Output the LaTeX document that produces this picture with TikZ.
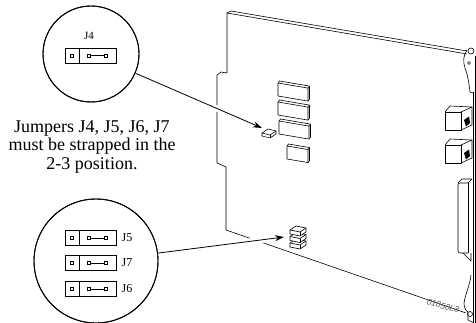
\documentclass[tikz,border=0pt]{standalone}
\usepackage{fontspec}
\setmainfont{Liberation Serif}
\setsansfont{Liberation Sans}
\usetikzlibrary{arrows.meta}
\newcommand{\boardchip}[3]{%
  \draw[board, fill=white] (#1,#2) -- ++(1.5,-2) -- ++(#3,{0.17*#3}) -- ++(0,13) -- ++(-1.5,2) -- ++(-#3,{-0.17*#3}) -- cycle;
  \draw[board] (#1,#2) -- ++(#3,{0.17*#3}) -- ++(0,13);
  \draw[board] (#1,#2) ++(#3,{0.17*#3}) -- ++(1.5,-2);}
\tikzset{
  board/.style={line width=0.6pt, line join=round},
  zoomcirc/.style={circle, draw, line width=0.9pt, inner sep=0pt},
  leader/.style={line width=0.8pt, -{Stealth[length=9pt,width=6pt]},
    preaction={draw=white, line width=6pt, -}},
  jumper/.pic={
    \draw[line width=0.7pt] (-25.5,-7.5) rectangle (25.5,7.5);
    \draw[line width=0.7pt] (-12.2,-7.5) -- (-12.2,7.5);
    \draw[line width=0.5pt] (-20.7,-1.5) rectangle ++(3,3);
    \draw[line width=0.5pt] (-3.7,-1.5) rectangle ++(3,3);
    \draw[line width=0.5pt] (13.3,-1.5) rectangle ++(3,3);
    \draw[line width=0.7pt] (-0.7,0) -- (13.3,0);
  },
  jblock/.pic={
    \draw[board, fill=white] (-8,0) -- (-2,-4) -- (8,-2) -- (8,2) -- (2,6) -- (-8,4) -- cycle;
    \draw[board] (-8,0) -- (2,2) -- (8,-2);
    \draw[board] (2,2) -- (2,6);
  },
  rjjack/.pic={
    \draw[board, fill=white] (0,0) rectangle (16,18);
    \draw[board] (0,0) -- (5,-6) -- (27,-5) -- (16,0);
    \draw[board] (16,18) -- (27,13) -- (27,-5);
    \fill (19,8) -- (24,4.5) -- (25,11) -- (21,14.5) -- cycle;
  },
}
\begin{document}
\begin{tikzpicture}[x=1pt, y=-1pt]
  \useasboundingbox (0,0) rectangle (476,323);
  % board outline
  \draw[board] (227,13) -- (227,73) -- (221,72) -- (217,75) -- (217,163) -- (226,167) -- (226,230) -- (466,313);
  \draw[board] (227,13) -- (467,54);
  \draw[board] (227,13) -- (231,11) -- (467,51);
  % faceplate and brackets
  \draw[board] (473,92) -- (473,323);
  \draw[board] (475.6,56) -- (475.6,323);
  \draw[board] (467,50) .. controls (463,56) and (463,62) .. (465,68) .. controls (468,76) and (469,84) .. (470,92) -- (473,93);
  \draw[board] (471,51) circle (3);
  \draw[board] (469,63) circle (1.5);
  \draw[board] (471,275) .. controls (470,285) and (465,295) .. (464,303) .. controls (464,308) and (466,311) .. (468,312);
  \draw[board] (470,314) circle (2.5);
  \draw[board] (468,312) -- (468,320) -- (474,323);
  \pic at (445,112) {rjjack};
  \pic at (445,145) {rjjack};
  % D connector
  \draw[board, rounded corners=2] (468,183) -- (458,183) -- (458,253) -- (468,253);
  \draw[board] (468,183) -- (468,253);
  \draw[board] (458,183) -- (462,179) -- (472,179) -- (468,183);
  \draw[board] (463,253) -- (471,261) -- (471,253);
  % chips
  \boardchip{278}{83}{30}
  \boardchip{278}{102}{30}
  \boardchip{279}{121}{30}
  \boardchip{287}{146}{21}
  \node[font=\sffamily\itshape\fontsize{8.5}{9}\selectfont, text=black!65, rotate=-15] (figid) at (443,306) {01850L3};
  % callouts
  \node[zoomcirc, minimum size=96pt] (jfour) at (91,54) {};
  \node[zoomcirc, minimum size=124pt] (jlow) at (96,261) {};
  \coordinate (jfourtip) at (262,128);
  \coordinate (jlowtip) at (284,237);
  \draw[leader] (jfour) -- (jfourtip);
  \draw[leader] (jlow) -- (jlowtip);
  \node[zoomcirc, minimum size=96pt] at (jfour) {};
  \node[zoomcirc, minimum size=124pt] at (jlow) {};
  % jumpers on the board
  \draw[board, fill=white] (262,133) -- (268,129) -- (276,131) -- (276,134) -- (270,138) -- (262,136) -- cycle;
  \draw[board] (262,133) -- (270,135) -- (276,131);
  \draw[board] (270,135) -- (270,138);
  \pic at (298,243) {jblock};
  \pic at (298,236.5) {jblock};
  \pic at (298,230) {jblock};
  % jumpers in the circles
  \pic at (91.2,55.5) {jumper};
  \node[font=\fontsize{11}{13}\selectfont] (lblfour) at (89,36) {J4};
  \foreach \y/\j in {238/5, 263/7, 289/6} {
    \pic at (91.2,\y) {jumper};
    \node[font=\fontsize{12}{14}\selectfont, anchor=west, inner sep=0pt] (lbl\j) at (121.5,\y) {J\j};
  }
  \node[align=center, font=\fontsize{18}{18.5}\selectfont] (note) at (92,146.5) {Jumpers J4, J5, J6, J7\\must be strapped in the\\2-3 position.};
\end{tikzpicture}
\end{document}
